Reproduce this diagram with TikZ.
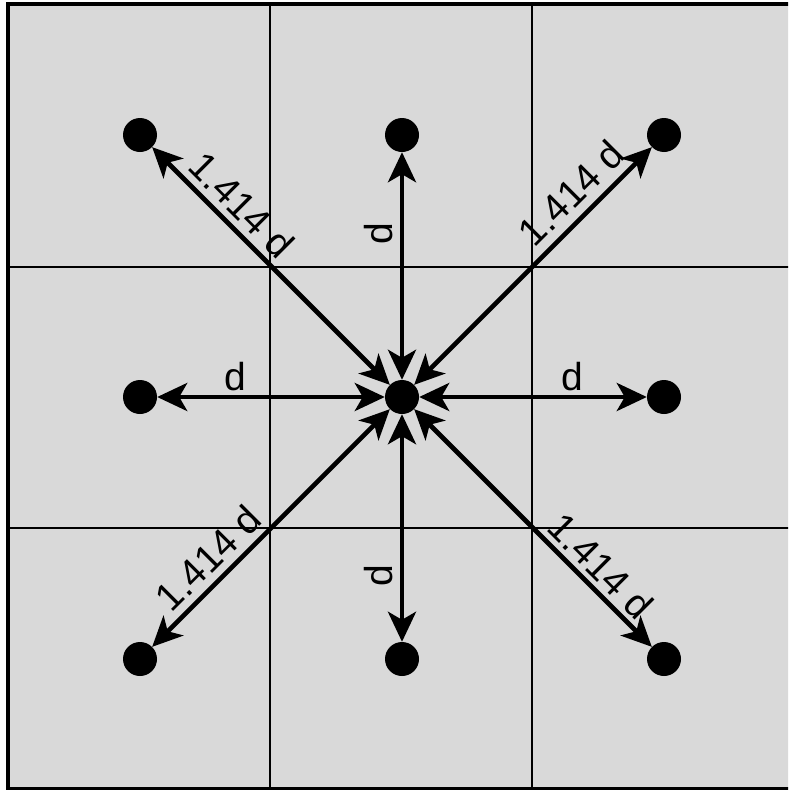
\documentclass[tikz,border=0pt]{standalone}
\usepackage{fontspec}
\setmainfont{Liberation Sans}
\usetikzlibrary{arrows.meta}
\begin{document}
\begin{tikzpicture}[x=1pt,y=-1pt,
  dot/.style={circle,fill=black,minimum size=34pt,inner sep=0pt},
  gridline/.style={line width=2.2pt,black},
  link/.style={line width=4.6pt,{Stealth[length=30pt,width=28pt,inset=8pt]}-{Stealth[length=30pt,width=28pt,inset=8pt]}},
  lbl/.style={font=\fontsize{39}{43}\selectfont,inner sep=0pt}]
\useasboundingbox (0,0) rectangle (788,790);
\fill[white] (0,0) rectangle (788,790);
\begin{scope}
\clip (0,0) rectangle (788,790);
\fill[fill={rgb,255:red,217;green,217;blue,217}] (8,4) rectangle (794,789);
\draw[gridline] (270,4) -- (270,789);
\draw[gridline] (532,4) -- (532,789);
\draw[gridline] (8,267) -- (794,267);
\draw[gridline] (8,528) -- (794,528);
\draw[line width=4.5pt] (8,4) rectangle (794,789);
\end{scope}
% dots
\node[dot] (c)  at (402,397) {};
\node[dot] (tl) at (140,135) {};
\node[dot] (tm) at (402,135) {};
\node[dot] (tr) at (664,135) {};
\node[dot] (ml) at (140,397) {};
\node[dot] (mr) at (664,397) {};
\node[dot] (bl) at (140,659) {};
\node[dot] (bm) at (402,659) {};
\node[dot] (br) at (664,659) {};
% arrows
\foreach \n in {tl,tm,tr,ml,mr,bl,bm,br}
  \draw[link] (c) -- (\n);
% labels
\node[lbl,rotate=90] (dt) at (379,234) {d};
\node[lbl,rotate=90] (db) at (379,576) {d};
\node[lbl] (dl) at (235,377) {d};
\node[lbl] (dr) at (572,377) {d};
\node[lbl,rotate=-45] (ltl) at (242,205) {1.414 d};
\node[lbl,rotate=45] (ltr) at (571,193) {1.414 d};
\node[lbl,rotate=45] (lbl) at (208,558) {1.414 d};
\node[lbl,rotate=-45] (lbr) at (601,566) {1.414 d};
\end{tikzpicture}
\end{document}
